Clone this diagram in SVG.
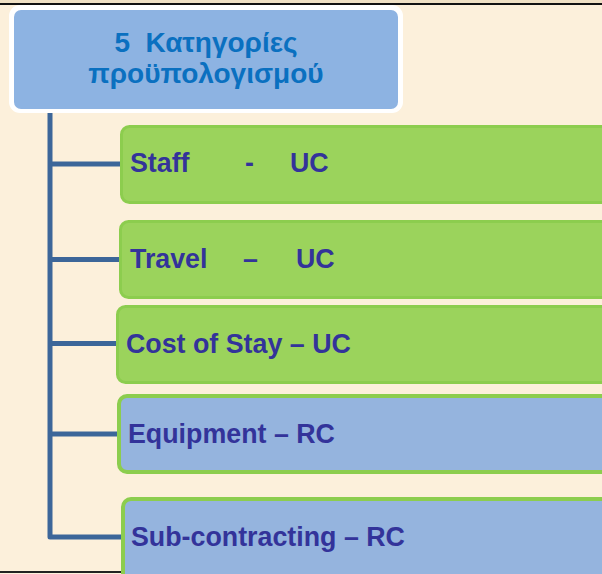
<svg xmlns="http://www.w3.org/2000/svg" width="602" height="574" viewBox="0 0 602 574">
<style>
.bg{fill:#fcf0db}
.lbl{font-family:"Liberation Sans",Arial,sans-serif;font-weight:bold;font-size:26.8px;fill:#33339a}
.hdr{font-family:"Liberation Sans",Arial,sans-serif;font-weight:bold;font-size:28px;fill:#0a70c0}
.green{fill:#9bd35c;stroke:#8ccd4e;stroke-width:3}
.blue{fill:#95b4de;stroke:#8ccd4e;stroke-width:4}
.conn{fill:none;stroke:#3c6699;stroke-width:5;stroke-linejoin:round}
</style>
<rect class="bg" x="0" y="0" width="602" height="574"/>
<rect x="0" y="0" width="602" height="3" fill="#efe0c4"/>
<rect x="0" y="3" width="602" height="2" fill="#111"/>
<rect x="0" y="571" width="122" height="2" fill="#222"/>
<g id="connectors">
<path class="conn" d="M50,111 V537 H122"/>
<path class="conn" d="M50,164 H122"/>
<path class="conn" d="M50,259.5 H121"/>
<path class="conn" d="M50,343.5 H118"/>
<path class="conn" d="M50,434 H119"/>
</g>
<g id="header">
<rect x="9" y="5" width="394" height="108" rx="11" fill="#ffffff"/>
<rect x="14" y="10" width="384" height="99" rx="7" fill="#8db3e2"/>
<text class="hdr" x="206" y="52" text-anchor="middle" xml:space="preserve">5  Κατηγορίες</text>
<text class="hdr" x="206" y="83" text-anchor="middle">προϋπολογισμού</text>
</g>
<g id="staff">
<rect class="green" x="121.5" y="126.5" width="500" height="76" rx="8"/>
<text class="lbl" y="172"><tspan x="130">Staff</tspan><tspan x="245">-</tspan><tspan x="290">UC</tspan></text>
</g>
<g id="travel">
<rect class="green" x="120.5" y="221.5" width="500" height="76" rx="8"/>
<text class="lbl" y="268"><tspan x="130">Travel</tspan><tspan x="243">–</tspan><tspan x="296">UC</tspan></text>
</g>
<g id="cost">
<rect class="green" x="117.5" y="306.5" width="500" height="76" rx="8"/>
<text class="lbl" x="126" y="353">Cost of Stay – UC</text>
</g>
<g id="equipment">
<rect class="blue" x="119" y="396" width="500" height="76" rx="8"/>
<text class="lbl" x="128" y="443">Equipment – RC</text>
</g>
<g id="subcontracting">
<rect class="blue" x="123" y="499" width="500" height="90" rx="8"/>
<text class="lbl" x="131" y="546">Sub-contracting – RC</text>
</g>
</svg>
